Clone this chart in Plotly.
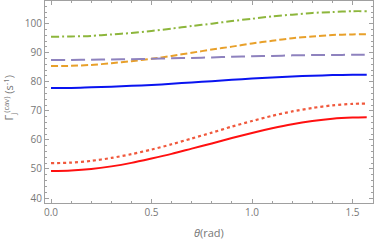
import plotly.graph_objects as go

theta = [0.0, 0.1, 0.2, 0.3, 0.4, 0.5, 0.6, 0.7, 0.8, 0.9, 1.0, 1.1, 1.2, 1.3, 1.4, 1.5, 1.5708]

green_dashdot = [95.5, 95.6, 95.8, 96.3, 96.8, 97.5, 98.3, 99.2, 100.0, 100.9, 101.7, 102.5, 103.1, 103.7, 104.0, 104.3, 104.3]
orange_dashed = [85.4, 85.5, 85.8, 86.4, 87.1, 87.9, 88.9, 90.0, 91.1, 92.1, 93.2, 94.1, 95.0, 95.6, 96.1, 96.3, 96.4]
purple_longdash = [87.5, 87.5, 87.6, 87.7, 87.8, 87.9, 88.1, 88.2, 88.4, 88.6, 88.8, 88.9, 89.1, 89.2, 89.2, 89.3, 89.3]
blue_solid = [77.9, 77.9, 78.1, 78.3, 78.6, 78.9, 79.3, 79.8, 80.2, 80.7, 81.1, 81.5, 81.8, 82.1, 82.3, 82.4, 82.4]
red_dotted = [52.0, 52.2, 52.8, 53.8, 55.1, 56.7, 58.5, 60.5, 62.5, 64.6, 66.5, 68.3, 69.8, 71.0, 71.9, 72.4, 72.5]
red_solid = [49.3, 49.5, 50.0, 50.9, 52.1, 53.6, 55.2, 57.0, 58.8, 60.65, 62.4, 64.0, 65.4, 66.5, 67.3, 67.7, 67.8]

x_ticks = [0.0, 0.5, 1.0, 1.5]
x_tick_labels = ["0.0", "0.5", "1.0", "1.5"]
y_ticks = [40, 50, 60, 70, 80, 90, 100]
y_tick_labels = ["40", "50", "60", "70", "80", "90", "100"]

series = [
    (green_dashdot, "#8DB63C", "8px,3px,2px,3px", 2),
    (orange_dashed, "#E8A02A", "7px,3px", 2),
    (purple_longdash, "#8E82BE", "14px,6px", 2),
    (blue_solid, "#0A14F0", "solid", 2),
    (red_dotted, "#F0583C", "3px,3px", 2.2),
    (red_solid, "#FF1010", "solid", 2),
]

fig = go.Figure()
for ys, color, dash, w in series:
    fig.add_trace(go.Scatter(x=theta, y=ys, mode="lines",
                             line=dict(color=color, dash=dash, width=w, shape="spline", smoothing=0.8),
                             showlegend=False, hoverinfo="skip"))

axis_common = dict(
    showgrid=False, zeroline=False, automargin=False,
    showline=True, linecolor="#A0A0A0", linewidth=1, mirror="allticks",
    ticks="inside", ticklen=4, tickwidth=1, tickcolor="#A0A0A0",
    tickfont=dict(family="Open Sans", size=10, color="#777777"),
)

title_font = dict(family="Open Sans", size=11, color="#777777")

fig.update_layout(
    width=374, height=240,
    margin=dict(l=45, r=1, t=1, b=37),
    paper_bgcolor="white", plot_bgcolor="white",
    xaxis=dict(range=[-0.03, 1.602], tickvals=x_ticks, ticktext=x_tick_labels,
               minor=dict(dtick=0.1, tick0=0, ticks="inside", ticklen=2, tickcolor="#A0A0A0"),
               **axis_common),
    yaxis=dict(range=[38.3, 107.8], tickvals=y_ticks, ticktext=y_tick_labels,
               minor=dict(dtick=2, tick0=40, ticks="inside", ticklen=2, tickcolor="#A0A0A0"),
               **axis_common),
    annotations=[
        dict(text="<i>θ</i>(rad)", xref="paper", yref="paper", x=0.5, y=-0.145,
             xanchor="center", yanchor="middle", showarrow=False, font=title_font),
        dict(text="Γ<sub>j</sub><sup>(cav)</sup> (s<sup>-1</sup>)", xref="paper", yref="paper",
             x=-0.108, y=0.52, xanchor="center", yanchor="middle", textangle=-90,
             showarrow=False, font=title_font),
    ],
)

fig.write_html("out.html", config={"displayModeBar": False},
               post_script="document.body.style.margin='0px';")
